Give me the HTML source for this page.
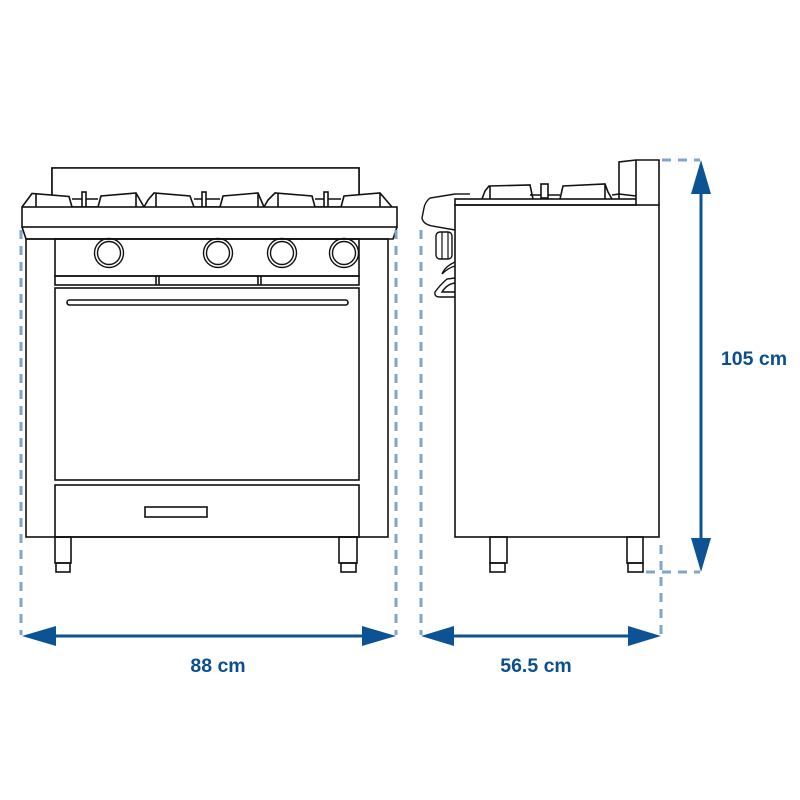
<!DOCTYPE html>
<html><head><meta charset="utf-8"><style>html,body{margin:0;padding:0;background:#fff}svg{display:block}</style></head>
<body>
<svg width="800" height="800" viewBox="0 0 800 800" xmlns="http://www.w3.org/2000/svg">
<g fill="none" stroke="#111" stroke-width="1.6">
  <rect x="52" y="168" width="307" height="39"/>
  <rect x="52" y="168" width="307" height="31" fill="#fff" stroke="none"/>
  <path d="M52 199 V168 H359 V199"/>
  <g fill="#fff">
    <path d="M22 207 L32 193.5 L69 196.5 L72 207"/>
    <path d="M36 194 V207"/>
    <path d="M72 199 H98"/>
    <rect x="82" y="192" width="4" height="15"/>
    <path d="M98 207 L101 196 L136 193 L144 207"/>
    <path d="M136 193 V207"/>
  </g>
  <g fill="#fff">
    <path d="M144 207 L148 200 L154 193 L190 196 L194 207"/>
    <path d="M156 194 V207"/>
    <path d="M194 199 H220"/>
    <rect x="202" y="192" width="4" height="15"/>
    <path d="M220 207 L223 196 L258 193 L264 207"/>
    <path d="M258 193 V207"/>
    <path d="M264 207 L268 200 L275 193 L312 196 L315 207"/>
    <path d="M278 194 V207"/>
    <path d="M315 199 H341"/>
    <rect x="324" y="192" width="4" height="15"/>
    <path d="M341 207 L344 196 L380 193 L392 207"/>
    <path d="M380 193 V207"/>
  </g>
  <rect x="22" y="207" width="375" height="20" fill="#fff"/>
  <path d="M22 227 L26 239 H393 L397 227"/>
  <rect x="26" y="239" width="362" height="298"/>
  <rect x="55" y="239" width="304" height="37"/>
  <rect x="55" y="276" width="304" height="9"/>
  <path d="M156 276 V285 M159 276 V285 M258 276 V285 M261 276 V285"/>
  <g stroke-width="1.4">
    <circle cx="109" cy="253" r="14.5"/><circle cx="109" cy="253" r="11.5"/>
    <circle cx="218" cy="253" r="14.5"/><circle cx="218" cy="253" r="11.5"/>
    <circle cx="282" cy="253" r="14.5"/><circle cx="282" cy="253" r="11.5"/>
    <circle cx="344" cy="253" r="14.5"/><circle cx="344" cy="253" r="11.5"/>
  </g>
  <rect x="55" y="288" width="304" height="192"/>
  <rect x="67" y="300" width="281" height="5" rx="2.5"/>
  <rect x="55" y="485" width="304" height="52"/>
  <rect x="145" y="507" width="62" height="10"/>
  <rect x="55" y="537" width="16" height="26"/>
  <rect x="56" y="563" width="14" height="9"/>
  <rect x="339" y="537" width="18" height="26"/>
  <rect x="341" y="563" width="15" height="9"/>

  <path d="M619 199 V162 L636 160 H659 V205"/>
  <path d="M636 160 V199"/>
  <path d="M482 199 L485 191 L489 186 L530 185 L533 199" fill="#fff"/>
  <path d="M490 186 V199"/>
  <path d="M530 195 H541 M548 195 H560"/>
  <rect x="541" y="184" width="7" height="14"/>
  <path d="M560 199 L563 186 L605 184 L608 192 L612 199" fill="#fff"/>
  <path d="M605 185 V199"/>
  <path d="M612 195 L619 194 L636 196"/>
  <rect x="455" y="199" width="181" height="6" fill="#fff"/>
  <rect x="455" y="205" width="204" height="332"/>
  <path d="M455 194 L430 198 Q425 202 424 208 L422 218 Q423 224 432 226 L455 230" stroke-width="1.4"/>
  <path d="M455 194 H470" stroke-width="1.4"/>
  <rect x="436" y="232" width="16" height="27" rx="4" stroke-width="1.4"/>
  <path d="M442 232 V259 M448 232 V259" stroke-width="1.2"/>
  <path d="M455 262 Q446 266 443 272 L442 274 Q448 268 455 266" stroke-width="1.4"/>
  <path d="M455 278 L447 279 Q440 285 435 292 Q434 297 440 297 L455 297 M455 283 Q447 284 442 292 L455 292" stroke-width="1.4"/>
  <rect x="490" y="537" width="17" height="26"/>
  <rect x="490" y="563" width="15" height="9"/>
  <rect x="627" y="537" width="16" height="26"/>
  <rect x="628" y="563" width="15" height="9"/>
</g>

<g stroke="#7ea6cc" stroke-width="3" stroke-dasharray="9 7" fill="none">
  <path d="M21 230 V635"/>
  <path d="M396 230 V635"/>
  <path d="M421 230 V635"/>
  <path d="M661 545 V635"/>
  <path d="M662 160 H700"/>
  <path d="M646 572 H700"/>
</g>

<g fill="#0b5394" stroke="#0b5394">
  <path d="M50 636 H368" stroke-width="3"/>
  <path d="M22 636 L56 626 L56 646 Z" stroke="none"/>
  <path d="M396 636 L362 626 L362 646 Z" stroke="none"/>
  <path d="M448 636 H634" stroke-width="3"/>
  <path d="M421 636 L454 626 L454 646 Z" stroke="none"/>
  <path d="M661 636 L628 626 L628 646 Z" stroke="none"/>
  <path d="M701 188 V545" stroke-width="3"/>
  <path d="M701 160 L691 194 L711 194 Z" stroke="none"/>
  <path d="M701 572 L691 538 L711 538 Z" stroke="none"/>
</g>

<g font-family="Liberation Sans, sans-serif" font-weight="bold" font-size="19.5" fill="#0b4f8f">
  <text x="218" y="672" text-anchor="middle">88 cm</text>
  <text x="536" y="672" text-anchor="middle">56.5 cm</text>
  <text x="754" y="365" text-anchor="middle">105 cm</text>
</g>
</svg>
</body></html>
